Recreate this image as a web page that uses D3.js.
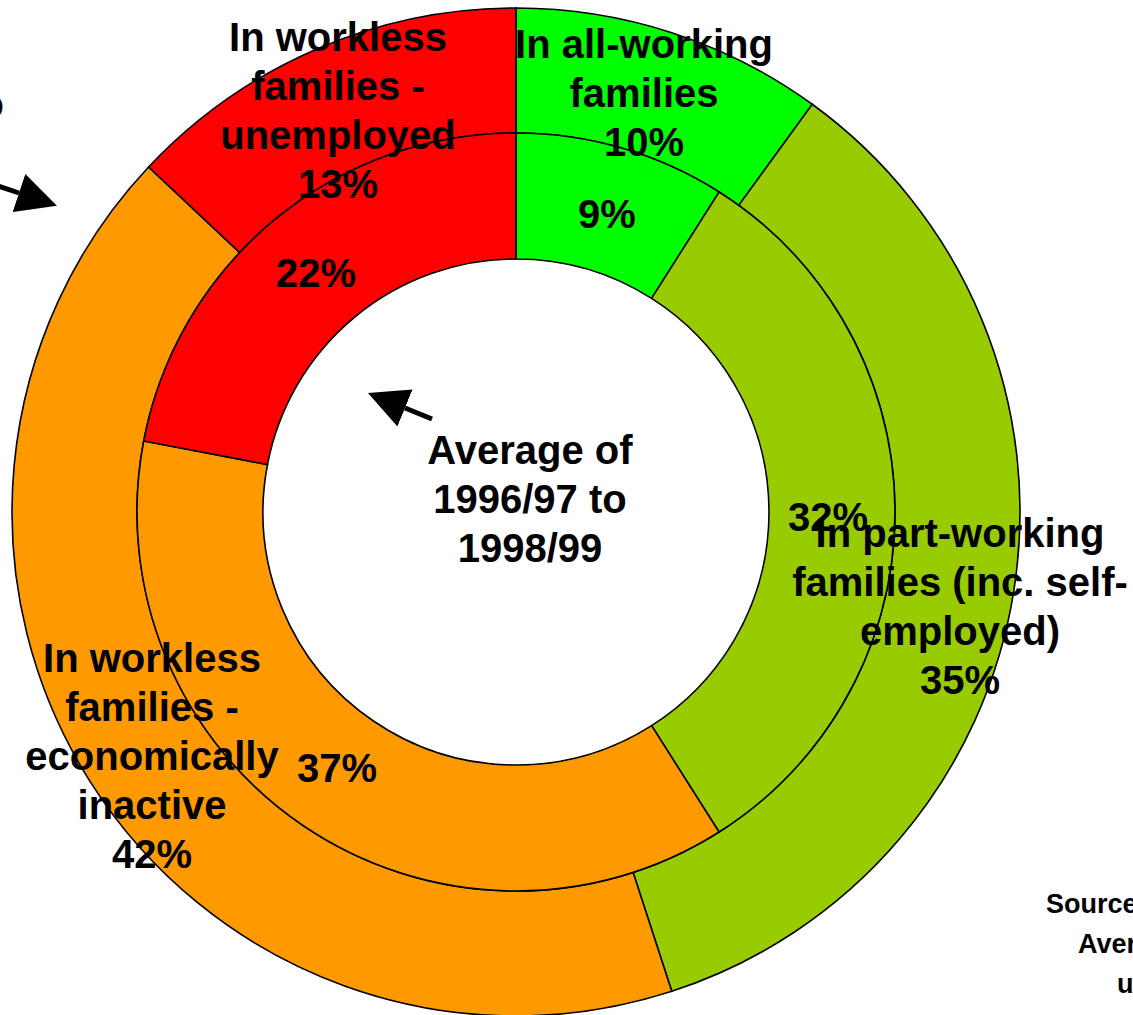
<!DOCTYPE html>
<html>
<head>
<meta charset="utf-8">
<script src="https://cdn.jsdelivr.net/npm/d3@7"></script>
<style>
  body { margin: 0; background: #fff; overflow: hidden; }
  text { font-family: "Liberation Sans", Arial, sans-serif; font-weight: bold; fill: #000; }
</style>
</head>
<body>
<div id="chart"></div>
<script>
// Data (percent of total)
var categories = ["all-working", "part-working", "workless-inactive", "workless-unemployed"];
var outerValues = [10, 35, 42, 13];   // outer ring
var innerValues = [9, 32, 37, 22];    // inner ring: average of 1996/97 to 1998/99
var colors = ["#00FF00", "#99CC00", "#FF9900", "#FF0000"];

var outerLabels = [
    ["In all-working", "families", "10%"],
    ["In part-working", "families (inc. self-", "employed)", "35%"],
    ["In workless", "families -", "economically", "inactive", "42%"],
    ["In workless", "families -", "unemployed", "13%"]
];
var innerLabels = ["9%", "32%", "37%", "22%"];

// Graph area
var width = 1133, height = 1015;
var cx = 516, cy = 512;
var rHole = 253, rMid = 379, rOuter = 504;
var fontSize = 40, lineH = 49;

var svg = d3.select("#chart")
    .append("svg")
        .attr("width", width)
        .attr("height", height);

var g = svg.append("g")
    .attr("transform", "translate(" + cx + "," + cy + ")");

var pie = d3.pie().sort(null).value(function(d) { return d; });

var outerArc = d3.arc().innerRadius(rMid).outerRadius(rOuter);
var innerArc = d3.arc().innerRadius(rHole).outerRadius(rMid);

// Outer ring
g.selectAll(".outer")
    .data(pie(outerValues))
    .enter()
    .append("path")
    .attr("class", "outer")
    .attr("d", outerArc)
    .style("fill", function(d, i) { return colors[i]; })
    .style("stroke", "#000")
    .style("stroke-width", 1.6);

// Inner ring
g.selectAll(".inner")
    .data(pie(innerValues))
    .enter()
    .append("path")
    .attr("class", "inner")
    .attr("d", innerArc)
    .style("fill", function(d, i) { return colors[i]; })
    .style("stroke", "#000")
    .style("stroke-width", 1.6);

// Label placement (page coords, first line baseline)
var outerPos = [[644, 58], [960, 547], [152, 672], [338, 51]];
var innerPos = [[607, 228], [828, 531], [337, 782], [316, 287]];

outerLabels.forEach(function(lines, i) {
    var t = svg.append("text")
        .attr("text-anchor", "middle")
        .style("font-size", fontSize + "px");
    lines.forEach(function(line, j) {
        t.append("tspan")
            .attr("x", outerPos[i][0])
            .attr("y", outerPos[i][1] + j * lineH)
            .text(line);
    });
});

innerLabels.forEach(function(lab, i) {
    svg.append("text")
        .attr("x", innerPos[i][0])
        .attr("y", innerPos[i][1])
        .attr("text-anchor", "middle")
        .style("font-size", fontSize + "px")
        .text(lab);
});

// Centre note
var note = ["Average of", "1996/97 to", "1998/99"];
var nt = svg.append("text")
    .attr("text-anchor", "middle")
    .style("font-size", fontSize + "px");
note.forEach(function(line, j) {
    nt.append("tspan")
        .attr("x", 530)
        .attr("y", 464 + j * lineH)
        .text(line);
});

// Arrows (line runs to the base of the head, head drawn by marker)
svg.append("defs").append("marker")
    .attr("id", "head")
    .attr("viewBox", "0 0 10 10")
    .attr("refX", 0).attr("refY", 5)
    .attr("markerWidth", 8).attr("markerHeight", 8)
    .attr("markerUnits", "strokeWidth")
    .attr("orient", "auto")
    .append("path")
    .attr("d", "M0,0 L10,5 L0,10 Z")
    .style("fill", "#000");

function arrow(x1, y1, x2, y2) {
    svg.append("line")
        .attr("x1", x1).attr("y1", y1)
        .attr("x2", x2).attr("y2", y2)
        .style("stroke", "#000")
        .style("stroke-width", 5)
        .attr("marker-end", "url(#head)");
}
arrow(432, 419, 405, 408);
arrow(-20, 180, 19, 193);

// Text cut off at the window edges
svg.append("text")
    .attr("x", 4).attr("y", 118)
    .attr("text-anchor", "end")
    .style("font-size", fontSize + "px")
    .text("to");

var src = [["Source:", 1046, 913], ["Average", 1078, 953], ["using", 1117, 993]];
src.forEach(function(s) {
    svg.append("text")
        .attr("x", s[1]).attr("y", s[2])
        .style("font-size", "27px")
        .text(s[0]);
});
</script>
</body>
</html>
